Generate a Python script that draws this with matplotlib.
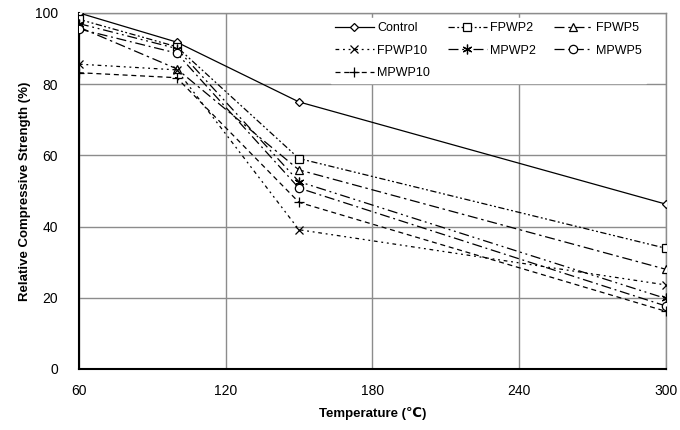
import matplotlib
matplotlib.use("Agg")
import matplotlib.pyplot as plt

temperature = [60, 100, 150, 300]
control = [100, 91.8, 75.0, 46.3]
fpwp2 = [98.2, 90.5, 59.1, 33.9]
fpwp5 = [96.0, 84.3, 55.9, 28.0]
fpwp10 = [85.6, 84.0, 39.1, 23.6]
mpwp2 = [97.0, 90.0, 52.6, 19.8]
mpwp5 = [95.5, 88.7, 50.8, 17.7]
mpwp10 = [83.2, 81.8, 46.8, 16.2]

series_names = ["Control", "FPWP2", "FPWP5", "FPWP10", "MPWP2", "MPWP5", "MPWP10"]
series_values = [control, fpwp2, fpwp5, fpwp10, mpwp2, mpwp5, mpwp10]
x_ticks = [60, 120, 180, 240, 300]
y_ticks = [0, 20, 40, 60, 80, 100]

styles = [
    dict(ls="-", marker="D", ms=4.5),
    dict(ls=(0, (5, 2, 1.5, 2, 1.5, 2)), marker="s", ms=6),
    dict(ls=(0, (8, 3, 2, 3)), marker="^", ms=6),
    dict(ls=(0, (3, 3, 1.5, 3, 1.5, 3)), marker="x", ms=6),
    dict(ls=(0, (8, 3, 1.5, 3, 1.5, 3)), marker=(6, 2, 0), ms=7),
    dict(ls=(0, (8, 3, 1.5, 3)), marker="o", ms=6),
    dict(ls=(0, (4, 3)), marker="+", ms=7),
]

plt.rcParams["font.family"] = ["Liberation Sans", "DejaVu Sans"]

fig = plt.figure(figsize=(6.8, 4.3), dpi=100)
ax = fig.add_axes([0.116, 0.142, 0.863, 0.828])

handles = []
for name, vals, st in zip(series_names, series_values, styles):
    h, = ax.plot(temperature, vals, color="black", lw=0.9, ls=st["ls"],
                 marker=st["marker"], ms=st["ms"], mfc="white", mec="black",
                 mew=0.9, label=name, zorder=3)
    handles.append(h)

ax.set_xlim(60, 300)
ax.set_ylim(0, 100)
ax.set_xticks(x_ticks)
ax.set_yticks(y_ticks)
ax.grid(True, color="#8c8c8c", lw=1.0)
ax.set_axisbelow(True)
ax.tick_params(length=0, labelsize=10)
ax.tick_params(axis="x", pad=11)
ax.tick_params(axis="y", pad=15)
for s in ["left", "bottom"]:
    ax.spines[s].set_color("black")
    ax.spines[s].set_linewidth(1.5)
for s in ["top", "right"]:
    ax.spines[s].set_color("#8c8c8c")
    ax.spines[s].set_linewidth(1.0)

ax.set_xlabel("Temperature (\u2103)", fontsize=9.5, fontweight="bold", labelpad=6)
ax.set_ylabel("Relative Compressive Strength (%)", fontsize=9.5, fontweight="bold", labelpad=3)

# row-wise legend order for a 3-column legend
order = [0, 3, 6, 1, 4, 2, 5]
leg = ax.legend([handles[i] for i in order], [series_names[i] for i in order],
                loc="upper left", ncol=3, frameon=True, fontsize=9,
                bbox_to_anchor=(0.43, 0.985), handlelength=3.1,
                columnspacing=1.4, handletextpad=0.3, labelspacing=0.85,
                borderaxespad=0.0, borderpad=0.3)
leg.get_frame().set_facecolor("white")
leg.get_frame().set_edgecolor("white")
leg.get_frame().set_alpha(1.0)
leg.get_frame().set_boxstyle("square", pad=0.0)

fig.savefig("out.png", dpi=100)
